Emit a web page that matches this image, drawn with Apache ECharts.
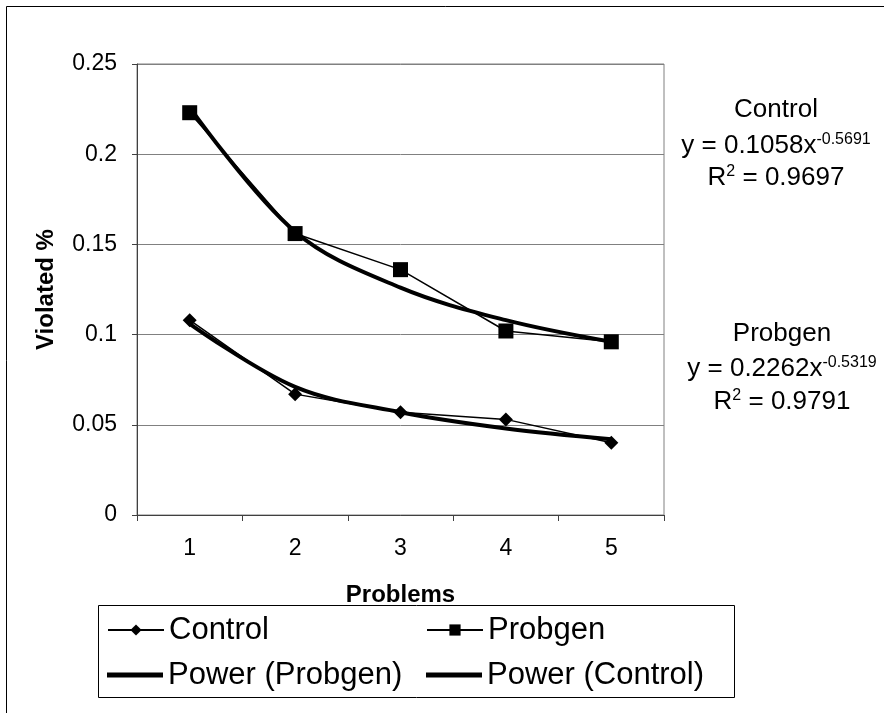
<!DOCTYPE html>
<html>
<head>
<meta charset="utf-8">
<script src="https://cdn.jsdelivr.net/npm/echarts@6/dist/echarts.min.js"></script>
<style>
  html, body { margin: 0; padding: 0; background: #fff; }
  #chart { width: 884px; height: 713px; }
</style>
</head>
<body>
<div id="chart"></div>
<script>
// values
const problems = ['1', '2', '3', '4', '5']
const control = [0.108, 0.067, 0.057, 0.053, 0.040]
const probgen = [0.223, 0.156, 0.136, 0.102, 0.096]
// power trend lines (Excel fit) read at each problem
const powerProbgen = [0.226, 0.157, 0.126, 0.108, 0.096]
const powerControl = [0.106, 0.071, 0.057, 0.048, 0.042]
const yTicks = [0, 0.05, 0.1, 0.15, 0.2, 0.25]

const FONT = '"Liberation Sans", Arial, sans-serif'
const chart = echarts.init(document.getElementById('chart'))

function legendItem(name, left, top, thick) {
  const item = { name: name }
  if (thick) {
    item.icon = 'rect'
  }
  return {
    data: [item],
    left: left,
    top: top,
    padding: 0,
    itemWidth: 56,
    itemHeight: thick ? 5 : 14,
    selectedMode: false,
    textStyle: { fontSize: 31, color: '#000', fontFamily: FONT, lineHeight: 36 }
  }
}

function note(text, x, y) {
  return {
    type: 'text',
    x: x,
    y: y,
    style: {
      text: text,
      align: 'center',
      verticalAlign: 'middle',
      fill: '#000',
      fontSize: 26,
      fontFamily: FONT,
      lineHeight: 28,
      rich: {
        s: { fontSize: 16, fontFamily: FONT, fill: '#000', verticalAlign: 'top', lineHeight: 16 }
      }
    }
  }
}

chart.setOption({
  animation: false,
  textStyle: { fontFamily: FONT },
  grid: {
    left: 137,
    right: 220,
    top: 64,
    bottom: 198,
    show: true,
    borderColor: '#808080',
    borderWidth: 1
  },
  legend: [
    legendItem('Control', 107, 612, false),
    legendItem('Probgen', 426, 612, false),
    legendItem('Power (Probgen)', 107, 657, true),
    legendItem('Power (Control)', 426, 657, true)
  ],
  xAxis: {
    type: 'category',
    data: problems,
    boundaryGap: true,
    name: 'Problems',
    nameLocation: 'middle',
    nameGap: 68,
    nameTextStyle: { fontSize: 24, fontWeight: 'bold', color: '#000' },
    axisLine: { lineStyle: { color: '#404040', width: 1 } },
    axisTick: { show: true, length: 6, lineStyle: { color: '#404040' } },
    axisLabel: { fontSize: 23, color: '#000', margin: 22 },
    splitLine: { show: false }
  },
  yAxis: {
    type: 'value',
    min: yTicks[0],
    max: yTicks[yTicks.length - 1],
    interval: 0.05,
    name: 'Violated %',
    nameLocation: 'middle',
    nameGap: 79,
    nameRotate: 90,
    nameTextStyle: { fontSize: 24, fontWeight: 'bold', color: '#000' },
    axisLine: { show: true, lineStyle: { color: '#404040', width: 1 } },
    axisTick: { show: true, length: 5, lineStyle: { color: '#404040' } },
    axisLabel: { fontSize: 23, color: '#000', margin: 20 },
    splitLine: { show: true, lineStyle: { color: '#808080', width: 1 } }
  },
  series: [
    {
      name: 'Control',
      type: 'line',
      data: control,
      symbol: 'diamond',
      symbolSize: 14,
      z: 5,
      itemStyle: { color: '#000' },
      lineStyle: { color: '#000', width: 1.5 }
    },
    {
      name: 'Probgen',
      type: 'line',
      data: probgen,
      symbol: 'rect',
      symbolSize: 15,
      z: 5,
      itemStyle: { color: '#000' },
      lineStyle: { color: '#000', width: 1.5 }
    },
    {
      name: 'Power (Probgen)',
      type: 'line',
      data: powerProbgen,
      smooth: 0.35,
      symbol: 'none',
      z: 3,
      itemStyle: { color: '#000' },
      lineStyle: { color: '#000', width: 4 }
    },
    {
      name: 'Power (Control)',
      type: 'line',
      data: powerControl,
      smooth: 0.35,
      symbol: 'none',
      z: 3,
      itemStyle: { color: '#000' },
      lineStyle: { color: '#000', width: 4 }
    }
  ],
  graphic: [
    // outer chart frame, cut off on the right and bottom
    {
      type: 'rect',
      shape: { x: 6.5, y: 6.5, width: 1000, height: 1000 },
      style: { fill: 'none', stroke: '#000', lineWidth: 1 },
      silent: true
    },
    // legend frame
    {
      type: 'rect',
      shape: { x: 98.5, y: 605.5, width: 636, height: 92 },
      style: { fill: 'none', stroke: '#000', lineWidth: 1 },
      silent: true
    },
    note('Control', 776, 110),
    note('y = 0.1058x{s|-0.5691}', 776, 146),
    note('R{s|2} = 0.9697', 776, 178),
    note('Probgen', 782, 334),
    note('y = 0.2262x{s|-0.5319}', 782, 369),
    note('R{s|2} = 0.9791', 782, 402)
  ]
})
</script>
</body>
</html>
